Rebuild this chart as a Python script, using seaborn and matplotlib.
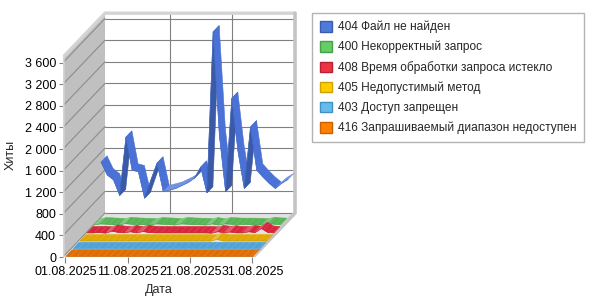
import numpy as np
import pandas as pd
import matplotlib
matplotlib.use("Agg")
import matplotlib.pyplot as plt
import seaborn as sns
from matplotlib.patches import Polygon, Patch
from matplotlib.colors import to_rgb

# ---------------- data ----------------
dates = pd.date_range("2025-08-01", "2025-08-31", freq="D")
tick_days = [0, 10, 20, 30]
tick_labels = ["01.08.2025", "11.08.2025", "21.08.2025", "31.08.2025"]
y_ticks = [0, 400, 800, 1200, 1600, 2000, 2400, 2800, 3200, 3600]

series_names = [
    "404 Файл не найден",
    "400 Некорректный запрос",
    "408 Время обработки запроса истекло",
    "405 Недопустимый метод",
    "403 Доступ запрещен",
    "416 Запрашиваемый диапазон недоступен",
]

hits_404 = [1070, 830, 740, 450, 1530, 920, 890, 400, 735, 1050, 520, 550, 580, 635, 690, 770,
            975, 500, 3480, 1570, 520, 2250, 1260, 580, 1720, 920, 790, 675, 580, 675, 745]
hits_400 = [40, 60, 55, 50, 40, 65, 55, 50, 45, 40, 60, 55, 50, 40, 60, 55,
            50, 45, 40, 60, 40, 60, 55, 50, 50, 50, 45, 40, 65, 55, 50]
hits_408 = [30, 30, 35, 25, 60, 40, 30, 50, 30, 55, 35, 30, 30, 30, 30, 30,
            30, 30, 30, 30, 25, 50, 35, 45, 30, 30, 50, 35, 110, 40, 30]
hits_405 = [15, 15, 15, 15, 15, 15, 15, 15, 15, 15, 15, 15, 15, 15, 15, 15,
            15, 15, 15, 15, 15, 15, 45, 15, 15, 15, 15, 15, 15, 15, 15]
hits_403 = [8, 8, 8, 8, 8, 8, 8, 8, 8, 8, 8, 8, 8, 8, 8, 8,
            8, 8, 8, 8, 8, 8, 8, 8, 8, 8, 8, 8, 8, 8, 8]
hits_416 = [5, 5, 5, 5, 5, 5, 5, 5, 5, 5, 5, 5, 5, 5, 5, 5,
            5, 5, 5, 5, 5, 5, 5, 5, 5, 5, 5, 5, 5, 5, 5]

series_values = [hits_404, hits_400, hits_408, hits_405, hits_403, hits_416]
ribbon_colors = ["#4a72d6", "#55b455", "#d8243c", "#e0a800", "#4ea2d8", "#e06c00"]
legend_colors = ["#4f7ad8", "#66cc66", "#ee3344", "#ffcc00", "#66bbee", "#ff8000"]
legend_edges = ["#3a5cb0", "#44a044", "#b82030", "#d0a000", "#4090c0", "#c86000"]

# ---------------- geometry (pixel based pseudo-3D) ----------------
PX_DAY = 6.23          # px per day
PX_VAL = 0.054         # px per hit
DEPTH = 42.0           # px depth (x direction)
DR = 44.0 / 42.0       # y/x ratio of depth direction
W0, W1, VTOP = -0.4, 30.1, 3700


def P(day, val, depth):
    return (day + depth / PX_DAY, val + depth * DR / PX_VAL)


def mix(c, t, amount):
    c = np.array(to_rgb(c)); t = np.array(to_rgb(t))
    return tuple(c + (t - c) * amount)


sns.set_style("white")
plt.rcParams["font.family"] = ["Liberation Sans", "DejaVu Sans"]
plt.rcParams["hatch.linewidth"] = 0.6

fig = plt.figure(figsize=(6, 3), dpi=100)
ax_w, ax_h = 237, 251
ax = fig.add_axes([63 / 600, 43 / 300, ax_w / 600, ax_h / 300])
ax.set_xlim(W0, W0 + ax_w / PX_DAY)
ax.set_ylim(0, ax_h / PX_VAL)
for s in ax.spines.values():
    s.set_visible(False)
ax.set_facecolor("none")

# walls and floor
ax.add_patch(Polygon([P(W0, 0, DEPTH), P(W1, 0, DEPTH), P(W1, VTOP, DEPTH), P(W0, VTOP, DEPTH)],
                     closed=True, facecolor="white", edgecolor="none", zorder=1))
ax.add_patch(Polygon([P(W0, 0, 0), P(W0, 0, DEPTH), P(W0, VTOP, DEPTH), P(W0, VTOP, 0)],
                     closed=True, facecolor="#c0c0c0", edgecolor="none", zorder=1))
ax.add_patch(Polygon([P(W0, 0, 0), P(W1, 0, 0), P(W1, 0, DEPTH), P(W0, 0, DEPTH)],
                     closed=True, facecolor="#e2e2e2", edgecolor="none", zorder=1))

# grid lines
for v in y_ticks:
    a, b = P(W0, v, DEPTH), P(W1, v, DEPTH)
    ax.plot([a[0], b[0]], [a[1], b[1]], color="#808080", lw=0.8, zorder=2)
    a, b = P(W0, v, 0), P(W0, v, DEPTH)
    ax.plot([a[0], b[0]], [a[1], b[1]], color="#8c8c8c", lw=0.8, zorder=2)
for d in tick_days[1:3]:
    a, b = P(d, 0, DEPTH), P(d, VTOP, DEPTH)
    ax.plot([a[0], b[0]], [a[1], b[1]], color="#808080", lw=0.8, zorder=2)

# frame rims
rim = [P(W0, 0, 0), P(W0, VTOP, 0), P(W0, VTOP, DEPTH), P(W1, VTOP, DEPTH)]
ax.plot([p[0] for p in rim], [p[1] for p in rim], color="#d4d4d4", lw=2.4,
        solid_joinstyle="miter", zorder=3)
rim2 = [P(W1, VTOP, DEPTH), P(W1, 0, DEPTH), P(W1, 0, 0)]
ax.plot([p[0] for p in rim2], [p[1] for p in rim2], color="#c4c4c4", lw=2.6,
        solid_joinstyle="miter", zorder=3)
rim3 = [P(W0, 0, 0), P(W1, 0, 0)]
ax.plot([p[0] for p in rim3], [p[1] for p in rim3], color="#c8c8c8", lw=1.0, zorder=3)

# ribbons
x = np.arange(len(dates))
n_series = len(series_values)
for idx, (vals, col) in enumerate(zip(series_values, ribbon_colors)):
    k = n_series - 1 - idx          # depth slot, 0 = front
    z0 = 7 * k + 0.5
    z1 = z0 + 6
    zo = 5 + idx
    small = idx > 0
    for i in range(len(vals) - 1):
        pa = P(x[i], vals[i], z0)
        pb = P(x[i + 1], vals[i + 1], z0)
        pc = P(x[i + 1], vals[i + 1], z1)
        pd_ = P(x[i], vals[i], z1)
        dy_px = (vals[i + 1] - vals[i]) * PX_VAL
        if dy_px > PX_DAY * DR:
            fc = mix(col, "black", 0.22)
        elif dy_px > 0.5:
            fc = mix(col, "white", 0.22)
        else:
            fc = col
        ax.add_patch(Polygon([pa, pb, pc, pd_], closed=True, facecolor=fc,
                             edgecolor=fc, lw=0.4, zorder=zo))
        if small:
            ax.add_patch(Polygon([pa, pb, pc, pd_], closed=True, facecolor="none",
                                 edgecolor=mix(fc, "white", 0.14), lw=0.0,
                                 hatch="/////", zorder=zo))
    front = pd.DataFrame({"x": [P(xx, vv, z0)[0] for xx, vv in zip(x, vals)],
                          "y": [P(xx, vv, z0)[1] for xx, vv in zip(x, vals)]})
    sns.lineplot(data=front, x="x", y="y", ax=ax, color=mix(col, "black", 0.08),
                 lw=0.4, estimator=None, sort=False, zorder=zo + 0.5)

# axes ticks & labels
ax.set_xticks(tick_days)
ax.set_xticklabels(tick_labels)
ax.set_yticks(y_ticks)
ax.set_yticklabels([f"{v:,}".replace(",", " ") for v in y_ticks])
ax.tick_params(axis="y", length=3, width=0.8, color="#808080", labelsize=9, pad=2,
               left=True, labelcolor="black")
ax.tick_params(axis="x", length=4, width=0.8, color="#808080", labelsize=9, pad=2.5,
               bottom=True, labelcolor="black")
ax.set_xlabel("")
ax.set_ylabel("")
fig.text(159 / 600, 1 - 290 / 300, "Дата", ha="center", va="center", fontsize=9)
fig.text(11 / 600, 1 - 155 / 300, "Хиты", ha="center", va="center", rotation=90, fontsize=9)

# legend
handles = [Patch(facecolor=c, edgecolor=e, lw=1.0) for c, e in zip(legend_colors, legend_edges)]
leg = fig.legend(handles, series_names, loc="upper left", bbox_to_anchor=(312 / 600, 1 - 13 / 300),
                 frameon=True, fancybox=False, edgecolor="#a0a0a0", fontsize=8.6,
                 handlelength=1.0, handleheight=1.0, handletextpad=0.5,
                 labelspacing=0.64, borderpad=0.65, borderaxespad=0)
leg.get_frame().set_linewidth(1.0)

fig.savefig("out.png", dpi=100)
